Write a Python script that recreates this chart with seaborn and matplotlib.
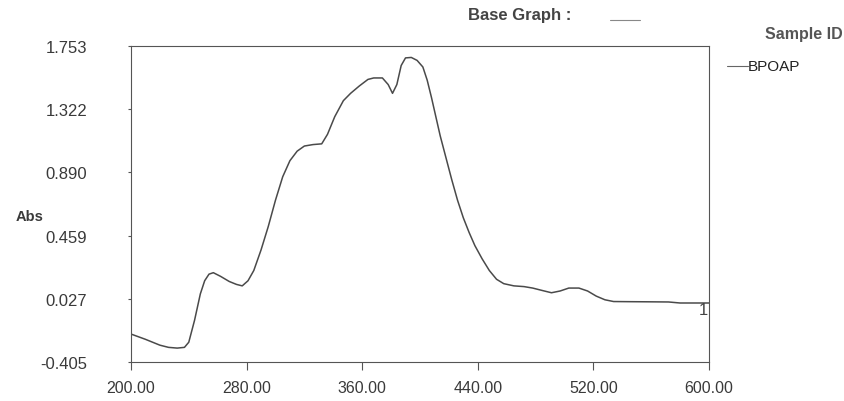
import numpy as np
import pandas as pd
import matplotlib
matplotlib.use("Agg")
import matplotlib.pyplot as plt
import seaborn as sns

# spectrum (wavelength nm, absorbance)
wavelength = [200, 210, 220, 226, 232, 237, 240, 244, 248, 251, 254, 257, 262, 268,
              273, 277, 281, 285, 290, 295, 300, 305, 310, 315, 320, 326, 332, 336,
              341, 347, 352, 358, 364, 368, 374, 378, 381, 384, 387, 390, 394, 398,
              402, 405, 408, 411, 414, 418, 422, 426, 430, 434, 438, 443, 448, 453,
              458, 465, 472, 478, 484, 491, 497, 503, 510, 516, 522, 528, 534, 545,
              560, 572, 580, 600]
absorbance = [-0.214, -0.25, -0.29, -0.305, -0.31, -0.305, -0.27, -0.12, 0.06, 0.15,
              0.195, 0.205, 0.18, 0.145, 0.125, 0.115, 0.15, 0.22, 0.36, 0.52, 0.70,
              0.86, 0.97, 1.035, 1.07, 1.08, 1.085, 1.15, 1.27, 1.38, 1.43, 1.48,
              1.525, 1.535, 1.535, 1.49, 1.43, 1.49, 1.62, 1.672, 1.675, 1.655, 1.61,
              1.52, 1.40, 1.27, 1.14, 0.99, 0.84, 0.70, 0.58, 0.48, 0.39, 0.30, 0.22,
              0.16, 0.13, 0.115, 0.11, 0.10, 0.085, 0.068, 0.08, 0.10, 0.10, 0.08,
              0.045, 0.02, 0.008, 0.007, 0.006, 0.005, -0.002, -0.002]

x_ticks = [200, 280, 360, 440, 520, 600]
x_labels = ["200.00", "280.00", "360.00", "440.00", "520.00", "600.00"]
y_ticks = [-0.405, 0.027, 0.459, 0.890, 1.322, 1.753]
y_labels = ["-0.405", "0.027", "0.459", "0.890", "1.322", "1.753"]
sample_id = "BPOAP"

df = pd.DataFrame({"wl": wavelength, "abs": absorbance})

sns.set_style("white")
plt.rcParams['font.family'] = ['Liberation Sans', 'DejaVu Sans']

ink = "#3a3a3a"
fig = plt.figure(figsize=(8.45, 4.02), dpi=100)
ax = fig.add_axes([0.155, 0.097, 0.684, 0.786])

sns.lineplot(data=df, x="wl", y="abs", ax=ax, color="#4a4a4a", linewidth=1.1)

ax.set_xlim(200, 600)
ax.set_ylim(-0.405, 1.753)
ax.set_xticks(x_ticks)
ax.set_xticklabels(x_labels)
ax.set_yticks(y_ticks)
ax.set_yticklabels(y_labels)
ax.set_xlabel("")
ax.set_ylabel("")

for s in ax.spines.values():
    s.set_color("#555555")
    s.set_linewidth(0.8)

ax.tick_params(axis="x", direction="out", length=6, width=0.8, color="#555555",
               pad=7, labelsize=11.5, labelcolor=ink, bottom=True)
ax.tick_params(axis="y", direction="out", length=2.5, width=0.8, color="#555555",
               pad=29, labelsize=12, labelcolor=ink, left=True)

fig.text(0.018, 0.46, "Abs", fontsize=10.5, color=ink, fontweight="bold",
         va="center", ha="left")
ax.text(599, -0.045, "1", fontsize=12, color="#444444", ha="right", va="center")

# header / legend area
fig.text(0.615, 0.962, "Base Graph :", fontsize=12, color="#444444",
         fontweight="bold", ha="center", va="center")
fig.add_artist(plt.Line2D([0.722, 0.757], [0.948, 0.948], color="#888888", lw=0.8))
fig.text(0.905, 0.915, "Sample ID", fontsize=11.5, color="#555555",
         fontweight="bold", ha="left", va="center")
fig.add_artist(plt.Line2D([0.860, 0.885], [0.834, 0.834], color="#666666", lw=0.8))
fig.text(0.885, 0.834, sample_id, fontsize=11, color="#222222",
         ha="left", va="center")

fig.savefig("out.png", dpi=100)
